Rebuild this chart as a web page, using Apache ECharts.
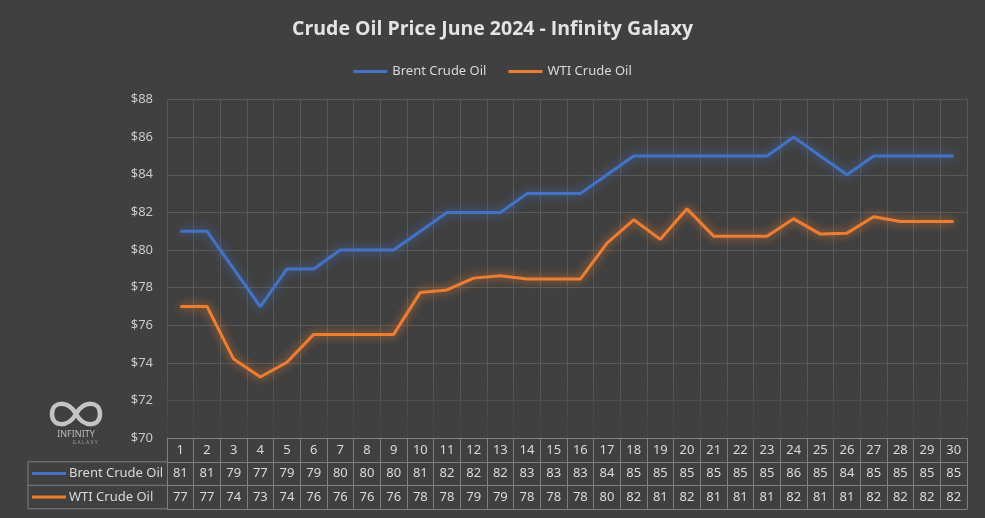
<!DOCTYPE html>
<html><head><meta charset="utf-8">
<script src="https://cdn.jsdelivr.net/npm/echarts@6/dist/echarts.min.js"></script>
<style>html,body{margin:0;padding:0;background:#404040;}#c{width:985px;height:518px;}</style>
</head><body><div id="c"></div>
<script>
const titleText = 'Crude Oil Price June 2024 - Infinity Galaxy';
const days = ['1','2','3','4','5','6','7','8','9','10','11','12','13','14','15','16','17','18','19','20','21','22','23','24','25','26','27','28','29','30'];
const brentName = 'Brent Crude Oil';
const wtiName = 'WTI Crude Oil';
const brent = [81,81,79,77,79,79,80,80,80,81,82,82,82,83,83,83,84,85,85,85,85,85,85,86,85,84,85,85,85,85];
const wti = [77,77,74.21,73.26,74.04,75.52,75.52,75.52,75.52,77.75,77.88,78.51,78.64,78.46,78.46,78.46,80.37,81.61,80.57,82.19,80.74,80.74,80.74,81.66,80.85,80.9,81.77,81.52,81.52,81.52];
const yMin = 70, yMax = 88, yStep = 2;

const FONT = '"Noto Sans", sans-serif';
const BLUE = '#4472C4', ORANGE = '#ED7D31';
const TXT = '#d9d9d9', BORDER = '#7f7f7f', GRID = '#595959';
const gridLeft = 167, gridRight = 18, gridTop = 99.5, gridBottom = 79.7;
const rowH = 23.5;
const baseY = 518 - gridBottom;
const tableLeft = 28;

const chart = echarts.init(document.getElementById('c'));

function tableAxis(offset, labelFn, showLabel, showTick) {
  return {
    type: 'category', data: days, position: 'bottom', offset: offset, boundaryGap: true,
    axisLine: { show: true, lineStyle: { color: BORDER, width: 1 } },
    axisTick: { show: showTick, interval: 0, length: rowH, inside: false, lineStyle: { color: BORDER } },
    axisLabel: { show: showLabel, interval: 0, margin: rowH / 2, verticalAlign: 'middle', color: TXT, fontSize: 13, fontFamily: FONT, formatter: labelFn },
    splitLine: { show: false }
  };
}

const xHeader = tableAxis(0, v => v, true, true);
xHeader.splitLine = { show: true, interval: 0, lineStyle: { color: GRID, width: 1 } };

function curve(x1, y1, c1x, c1y, c2x, c2y, x2, y2) {
  return { type: 'bezierCurve', z: 5, shape: { x1: x1, y1: y1, cpx1: c1x, cpy1: c1y, cpx2: c2x, cpy2: c2y, x2: x2, y2: y2 },
    style: { fill: null, stroke: '#c4c4c4', lineWidth: 4.5 } };
}

const option = {
  backgroundColor: '#404040',
  animation: false,
  title: {
    text: titleText, left: 'center', top: 14,
    textStyle: { color: '#e3e3e3', fontSize: 19.5, fontWeight: 'bold', fontFamily: '"Open Sans", sans-serif' }
  },
  legend: {
    top: 60, left: 'center', itemWidth: 34, itemHeight: 3, itemGap: 22, icon: 'rect',
    textStyle: { color: TXT, fontSize: 13, fontFamily: FONT },
    data: [brentName, wtiName]
  },
  grid: { left: gridLeft, right: gridRight, top: gridTop, bottom: gridBottom, containLabel: false },
  xAxis: [
    xHeader,
    tableAxis(rowH, (v, i) => String(Math.round(brent[i])), true, true),
    tableAxis(rowH * 2, (v, i) => String(Math.round(wti[i])), true, true),
    tableAxis(rowH * 3, v => '', false, false)
  ],
  yAxis: {
    type: 'value', min: yMin, max: yMax, interval: yStep,
    axisLine: { show: false }, axisTick: { show: false },
    axisLabel: { color: '#c8c8c8', fontSize: 13, fontFamily: FONT, margin: 14, formatter: v => '$' + v },
    splitLine: { lineStyle: { color: GRID, width: 1 } }
  },
  series: [
    { name: brentName, type: 'line', data: brent, xAxisIndex: 0, symbol: 'none', color: BLUE, z: 3,
      lineStyle: { width: 3, color: BLUE, shadowBlur: 10, shadowColor: 'rgba(68,114,196,0.9)' } },
    { name: wtiName, type: 'line', data: wti, xAxisIndex: 0, symbol: 'none', color: ORANGE, z: 3,
      lineStyle: { width: 3, color: ORANGE, shadowBlur: 10, shadowColor: 'rgba(237,125,49,0.9)' } }
  ],
  graphic: [
    { type: 'rect', z: 1, silent: true, shape: { x: gridLeft - 1, y: baseY - 63, width: 985 - gridLeft - gridRight + 2, height: 62.5 },
      style: { fill: new echarts.graphic.LinearGradient(0, 0, 0, 1, [
        { offset: 0, color: 'rgba(64,64,64,0)' }, { offset: 1, color: 'rgba(64,64,64,0.92)' }]) } },
    { type: 'line', shape: { x1: tableLeft, y1: baseY + rowH, x2: gridLeft, y2: baseY + rowH }, style: { stroke: BORDER, lineWidth: 1 } },
    { type: 'line', shape: { x1: tableLeft, y1: baseY + rowH * 2, x2: gridLeft, y2: baseY + rowH * 2 }, style: { stroke: BORDER, lineWidth: 1 } },
    { type: 'line', shape: { x1: tableLeft, y1: baseY + rowH * 3, x2: gridLeft, y2: baseY + rowH * 3 }, style: { stroke: BORDER, lineWidth: 1 } },
    { type: 'line', shape: { x1: tableLeft, y1: baseY + rowH, x2: tableLeft, y2: baseY + rowH * 3 }, style: { stroke: BORDER, lineWidth: 1 } },
    { type: 'rect', shape: { x: 32, y: baseY + rowH * 1.5 - 1.5, width: 34, height: 3 }, style: { fill: BLUE } },
    { type: 'rect', shape: { x: 32, y: baseY + rowH * 2.5 - 1.5, width: 34, height: 3 }, style: { fill: ORANGE } },
    { type: 'text', x: 69, y: baseY + rowH * 1.5, style: { text: brentName, fill: TXT, font: '13px ' + FONT, textVerticalAlign: 'middle' } },
    { type: 'text', x: 69, y: baseY + rowH * 2.5, style: { text: wtiName, fill: TXT, font: '13px ' + FONT, textVerticalAlign: 'middle' } },
    curve(76, 414, 84, 400, 100, 401, 100, 414),
    curve(100, 414, 100, 427, 84, 428, 76, 414),
    curve(76, 414, 68, 400, 52, 401, 52, 414),
    curve(52, 414, 52, 427, 68, 428, 76, 414),
    { type: 'text', z: 5, x: 76, y: 434, style: { text: 'INFINITY', fill: '#bdbdbd', font: '9px ' + FONT, textAlign: 'center', textVerticalAlign: 'middle' } },
    { type: 'text', z: 5, x: 85, y: 443, style: { text: 'G A L A X Y', fill: '#9a9a9a', font: '5px ' + FONT, textAlign: 'center', textVerticalAlign: 'middle' } }
  ]
};
chart.setOption(option);
</script>
</body></html>
